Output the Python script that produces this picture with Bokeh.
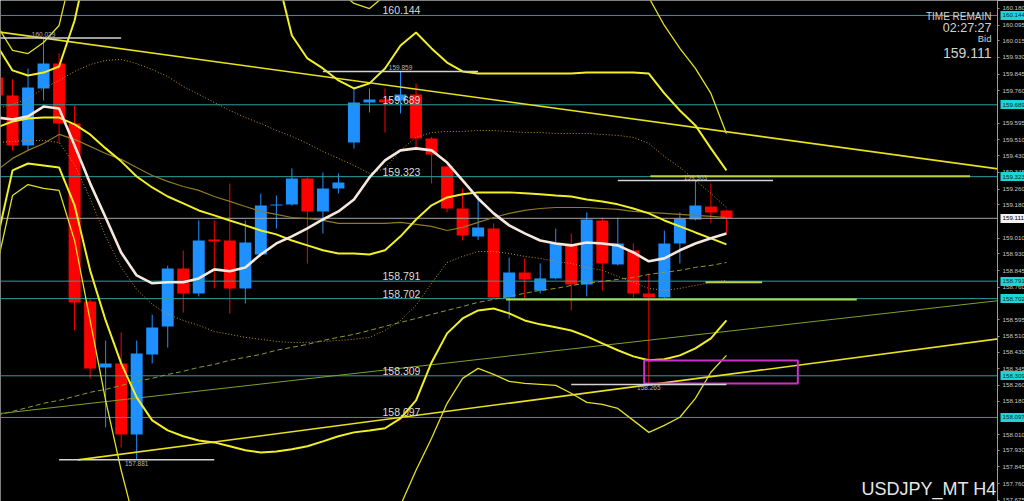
from bokeh.plotting import figure
from bokeh.models import Range1d, FixedTicker, NumeralTickFormatter, Label, LinearAxis
from bokeh.embed import file_html
from bokeh.resources import INLINE
from bokeh.core.properties import value

# ---- USDJPY H4 candles (oldest -> newest) ----
opens = [159.828, 159.736, 159.482, 159.772, 159.899, 159.594, 158.687, 158.351, 158.372, 158.010,
         158.418, 158.560, 158.855, 158.728, 159.003, 158.998, 158.754, 158.927, 159.176, 159.181,
         159.314, 159.146, 159.263, 159.497, 159.701, 159.716, 159.711, 159.741, 159.517, 159.375,
         159.161, 159.018, 159.059, 158.708, 158.835, 158.743, 158.805, 158.978, 158.774, 159.100,
         158.876, 158.947, 158.728, 158.708, 158.983, 159.105, 159.171, 159.151]
highs = [159.850, 159.818, 159.874, 160.029, 159.950, 159.685, 158.700, 158.489, 158.530, 158.489,
         158.620, 158.870, 158.947, 159.100, 159.100, 159.288, 159.100, 159.237, 159.227, 159.365,
         159.320, 159.344, 159.339, 159.772, 159.772, 159.772, 159.859, 159.797, 159.525, 159.380,
         159.263, 159.227, 159.085, 158.911, 158.906, 158.881, 159.059, 159.034, 159.141, 159.115,
         159.115, 158.983, 158.830, 159.049, 159.141, 159.303, 159.288, 159.155]
lows = [159.700, 159.456, 159.456, 159.711, 159.492, 158.540, 158.295, 158.046, 157.944, 157.881,
        158.372, 158.453, 158.631, 158.713, 158.754, 158.626, 158.677, 158.920, 159.059, 159.175,
        158.881, 159.034, 159.237, 159.466, 159.650, 159.548, 159.645, 159.472, 159.288, 159.141,
        158.998, 159.000, 158.700, 158.601, 158.703, 158.728, 158.800, 158.642, 158.713, 158.743,
        158.870, 158.708, 158.265, 158.700, 158.881, 159.100, 159.085, 159.034]
closes = [159.736, 159.482, 159.777, 159.899, 159.594, 158.682, 158.346, 158.372, 158.010, 158.423,
          158.555, 158.855, 158.728, 158.998, 158.993, 158.754, 158.988, 159.176, 159.181, 159.314,
          159.146, 159.263, 159.293, 159.701, 159.716, 159.701, 159.741, 159.517, 159.436, 159.161,
          159.023, 159.064, 158.708, 158.835, 158.799, 158.805, 158.983, 158.774, 159.105, 158.881,
          158.983, 158.728, 158.708, 158.983, 159.110, 159.176, 159.141, 159.111]
bars = list(range(len(opens)))

# ---- indicator lines, one value per bar ----
ma_fast = [159.624, 159.614, 159.630, 159.680, 159.670, 159.482, 159.289, 159.115, 158.937, 158.820,
           158.780, 158.785, 158.785, 158.805, 158.851, 158.841, 158.861, 158.927, 158.983, 159.019,
           159.060, 159.105, 159.146, 159.207, 159.319, 159.406, 159.457, 159.467, 159.457, 159.395,
           159.304, 159.212, 159.136, 159.075, 159.034, 158.998, 158.983, 158.973, 158.988, 158.983,
           158.973, 158.937, 158.892, 158.907, 158.948, 158.983, 159.009, 159.034]
ma_mid = [159.574, 159.604, 159.619, 159.624, 159.624, 159.589, 159.538, 159.467, 159.401, 159.324,
          159.268, 159.222, 159.187, 159.151, 159.126, 159.100, 159.075, 159.049, 159.029, 158.998,
          158.973, 158.948, 158.932, 158.932, 158.927, 158.948, 159.019, 159.105, 159.177, 159.217,
          159.233, 159.243, 159.243, 159.243, 159.238, 159.233, 159.227, 159.222, 159.207, 159.197,
          159.182, 159.161, 159.136, 159.100, 159.070, 159.039, 159.009, 158.978]
ma_slow = [159.355, 159.416, 159.457, 159.492, 159.538, 159.513, 159.477, 159.441, 159.411, 159.370,
           159.329, 159.299, 159.273, 159.253, 159.222, 159.197, 159.171, 159.146, 159.131, 159.115,
           159.110, 159.100, 159.085, 159.085, 159.085, 159.085, 159.090, 159.080, 159.070, 159.049,
           159.065, 159.090, 159.115, 159.136, 159.151, 159.161, 159.166, 159.166, 159.166, 159.161,
           159.156, 159.146, 159.141, 159.136, 159.131, 159.126, 159.121, 159.115]
env_up = [159.670, 159.691, 159.721, 159.772, 159.813, 159.859, 159.894, 159.915, 159.920, 159.899,
          159.869, 159.833, 159.782, 159.742, 159.701, 159.660, 159.624, 159.594, 159.558, 159.528,
          159.492, 159.451, 159.416, 159.380, 159.339, 159.365, 159.457, 159.523, 159.548, 159.553,
          159.553, 159.558, 159.558, 159.553, 159.548, 159.548, 159.543, 159.543, 159.543, 159.538,
          159.533, 159.523, 159.492, 159.426, 159.370, 159.304, 159.238, 159.166]
env_dn = [159.497, 159.502, 159.507, 159.507, 159.497, 159.385, 159.212, 159.019, 158.861, 158.749,
          158.673, 158.622, 158.591, 158.566, 158.535, 158.520, 158.505, 158.495, 158.484, 158.479,
          158.479, 158.484, 158.489, 158.495, 158.505, 158.540, 158.591, 158.668, 158.780, 158.886,
          158.917, 158.942, 158.942, 158.932, 158.917, 158.907, 158.892, 158.881, 158.861, 158.846,
          158.815, 158.785, 158.754, 158.744, 158.754, 158.769, 158.785, 158.795]
bb2_up = [159.991, 159.864, 159.838, 159.853, 159.884, 160.118, 160.475, 160.831, 161.136, 161.340,
          161.493, 161.543, 161.543, 161.493, 161.391, 161.187, 160.933, 160.653, 160.363, 160.042,
          159.925, 159.874, 159.813, 159.772, 159.798, 159.874, 159.991, 160.057, 159.976, 159.904,
          159.859, 159.848, 159.848, 159.848, 159.848, 159.848, 159.848, 159.848, 159.853, 159.853,
          159.853, 159.853, 159.848, 159.747, 159.660, 159.584, 159.467, 159.355]
bb2_dn = [158.998, 159.355, 159.390, 159.380, 159.370, 159.177, 158.846, 158.591, 158.372, 158.199,
          158.082, 158.031, 158.001, 157.980, 157.970, 157.950, 157.930, 157.919, 157.924, 157.935,
          157.950, 157.975, 158.001, 158.021, 158.031, 158.042, 158.092, 158.184, 158.377, 158.525,
          158.601, 158.642, 158.652, 158.627, 158.591, 158.571, 158.556, 158.540, 158.510, 158.474,
          158.439, 158.408, 158.388, 158.393, 158.413, 158.449, 158.500, 158.591]
bb3_up = [160.093, 159.966, 159.950, 160.006, 160.093, 160.424, 160.984, 161.493, 161.900, 162.154,
          162.358, 162.460, 162.460, 162.358, 162.205, 162.002, 161.747, 161.442, 161.136, 160.831,
          160.627, 160.424, 160.271, 160.205, 160.179, 160.245, 160.424, 160.525, 160.576, 160.627,
          160.653, 160.653, 160.653, 160.653, 160.653, 160.653, 160.627, 160.602, 160.576, 160.525,
          160.449, 160.347, 160.235, 160.093, 159.976, 159.874, 159.747, 159.543]
bb3_dn = [158.871, 159.227, 159.283, 159.263, 159.253, 158.998, 158.591, 158.184, 157.828, 157.522,
          157.319, 157.166, 157.064, 156.988, 156.937, 156.912, 156.886, 156.886, 156.912, 156.962,
          157.039, 157.115, 157.217, 157.319, 157.420, 157.573, 157.650, 157.828, 157.991, 158.169,
          158.296, 158.347, 158.316, 158.281, 158.270, 158.265, 158.260, 158.220, 158.174, 158.164,
          158.143, 158.082, 158.021, 158.057, 158.098, 158.194, 158.327, 158.413]
ma_long = [158.108, 158.128, 158.148, 158.169, 158.184, 158.204, 158.225, 158.240, 158.260, 158.281,
           158.296, 158.316, 158.332, 158.352, 158.367, 158.388, 158.403, 158.418, 158.439, 158.454,
           158.469, 158.489, 158.505, 158.520, 158.540, 158.561, 158.581, 158.601, 158.622, 158.642,
           158.662, 158.683, 158.698, 158.713, 158.729, 158.744, 158.754, 158.769, 158.780, 158.790,
           158.800, 158.810, 158.825, 158.836, 158.846, 158.861, 158.871, 158.886]

# ---- drawn objects ----
levels = [160.144, 159.689, 159.323, 158.791, 158.702, 158.309, 158.097]
bid = 159.111
swing_bar = [3, 26, 45, 42, 9]
swing_price = [160.029, 159.859, 159.303, 158.265, 157.881]
swing_is_high = [True, True, True, False, False]
trend_desc_x, trend_desc_y = [0, 65], [160.061, 159.357]
trend_asc_x, trend_asc_y = [5.2, 65], [157.881, 158.502]
trend_grn_x, trend_grn_y = [0, 65], [158.115, 158.696]
zone_price = [159.325, 158.785, 158.698]
zone_start = [42.1, 45.65, 32.8]
zone_end = [62.7, 49.3, 55.4]
box_left, box_right, box_bottom, box_top = 41.7, 51.6, 158.270, 158.387
axis_ticks = [160.180, 160.095, 160.015, 159.930, 159.845, 159.760, 159.595, 159.510,
              159.430, 159.345, 159.260, 159.180, 159.010, 158.930, 158.845, 158.760,
              158.595, 158.510, 158.430, 158.345, 158.260, 158.180, 158.010,
              157.930, 157.845, 157.760, 157.675]
symbol = "USDJPY_MT H4"
time_remain = "02:27:27"

FONT = "Liberation Sans"
SCALE_SIZE = "6.2px"
FRAME_W, FRAME_H = 997, 501
BAR_PX = 15.52
x0 = 3.5 / BAR_PX
Y_MIN, Y_MAX = 157.669, 160.220

p = figure(frame_width=FRAME_W, frame_height=FRAME_H,
           x_range=Range1d(x0, x0 + FRAME_W / BAR_PX),
           y_range=Range1d(Y_MIN, Y_MAX),
           output_backend="svg", toolbar_location=None,
           x_axis_location=None, y_axis_location="right",
           background_fill_color="black", border_fill_color="black",
           outline_line_color=None, min_border=0)
p.grid.visible = False

ax = p.yaxis[0]
ax.ticker = FixedTicker(ticks=axis_ticks)
ax.formatter = NumeralTickFormatter(format="0.000")
ax.axis_line_color = "#9a9a9a"
ax.major_tick_line_color = "#9a9a9a"
ax.major_tick_out = 2
ax.major_tick_in = 0
ax.minor_tick_line_color = None
ax.major_label_standoff = 3
ax.major_label_text_font = FONT
ax.major_label_text_font_size = SCALE_SIZE
ax.major_label_text_color = "#c8c8c8"


def tag_axis(values, fill, text_color):
    # price tags on the scale: a wide tick acts as the tag box, the label sits on top of it
    t = LinearAxis(ticker=FixedTicker(ticks=values), formatter=NumeralTickFormatter(format="0.000"))
    t.axis_line_color = None
    t.minor_tick_line_color = None
    t.major_tick_out = 0
    t.major_tick_in = 27
    t.major_tick_line_width = 9
    t.major_tick_line_color = fill
    t.major_tick_line_cap = "butt"
    t.major_label_standoff = -25
    t.major_label_text_font = FONT
    t.major_label_text_font_size = SCALE_SIZE
    t.major_label_text_color = text_color
    p.add_layout(t, "right")


tag_axis(levels, "#1cd6d6", "#0a2a2a")
tag_axis([bid], "#f2f2f2", "black")

# candles
colors = ["#1e90ff" if c >= o else "#ff0000" for o, c in zip(opens, closes)]
tops = [max(o, c) for o, c in zip(opens, closes)]
bots = [min(o, c) for o, c in zip(opens, closes)]
p.segment(x0=bars, y0=lows, x1=bars, y1=highs, color=colors, line_width=1)
p.vbar(x=bars, width=0.77, top=tops, bottom=bots, fill_color=colors, line_color=None)

# horizontal price levels and bid line
for lv in levels:
    p.segment(x0=[x0 - 1], y0=[lv], x1=[70], y1=[lv], color="#2c9f9f", line_width=1)
p.segment(x0=[x0 - 1], y0=[bid], x1=[70], y1=[bid], color="#a4a4a4", line_width=1)

# trend lines
p.line(trend_grn_x, trend_grn_y, color="#7f9f2f", line_width=1)
p.line(trend_desc_x, trend_desc_y, color="#e8e020", line_width=1.6)
p.line(trend_asc_x, trend_asc_y, color="#e8e020", line_width=1.6)

# indicators
p.line(bars, ma_long, color="#8a9a30", line_width=1, line_dash="5 3")
p.line(bars, env_up, color="#c0902a", line_width=1, line_dash="1 2")
p.line(bars, env_dn, color="#c0902a", line_width=1, line_dash="1 2")
p.line(bars, ma_slow, color="#8f7a22", line_width=1.2)
p.line(bars, bb3_up, color="#e0e024", line_width=1.3)
p.line(bars, bb3_dn, color="#e0e024", line_width=1.3)
p.line(bars, bb2_up, color="#f0ef28", line_width=2)
p.line(bars, bb2_dn, color="#f0ef28", line_width=2)
p.line(bars, ma_mid, color="#f0ef28", line_width=2)
p.line(bars, ma_fast, color="#f6e8dc", line_width=2.6)

# zones and box
p.segment(x0=zone_start, y0=zone_price, x1=zone_end, y1=zone_price, color="#c4d03a", line_width=2)
p.quad(left=[box_left], right=[box_right], bottom=[box_bottom], top=[box_top],
       fill_color=None, line_color="#c832c8", line_width=2)

# swing high / low markers
p.segment(x0=[b - 5 for b in swing_bar], y0=swing_price, x1=[b + 5 for b in swing_bar], y1=swing_price,
          color="#d4d4d4", line_width=1.5)
for b, v, hi in zip(swing_bar, swing_price, swing_is_high):
    p.text(x=[b], y=[v], text=[f"{v:.3f}"], text_font=value(FONT), text_font_size="6.5px",
           text_color="#b4b4b4", text_align="center",
           text_baseline="bottom" if hi else "top", y_offset=-1 if hi else 1)

# level captions on the chart
cap_x = (382 + 3.5) / BAR_PX
p.text(x=[cap_x] * len(levels), y=levels, text=[f"{v:.3f}" for v in levels],
       text_font=value(FONT), text_font_size="10.5px", text_color="#dcdcdc",
       text_baseline="bottom", y_offset=-1)

# info block, top right
info = [("TIME REMAIN", "10px", 485), (time_remain, "12.5px", 474),
        ("Bid", "9.5px", 463), (f"{bid:.3f}", "14px", 449)]
for txt, size, sy in info:
    p.add_layout(Label(x=991, y=sy, x_units="screen", y_units="screen", text=txt,
                       text_font=FONT, text_font_size=size, text_color="#d2d2d2",
                       text_align="right", text_baseline="alphabetic"))

p.add_layout(Label(x=996, y=13, x_units="screen", y_units="screen", text=symbol,
                   text_font=FONT, text_font_size="18px", text_color="#e6e6e6",
                   text_align="right", text_baseline="alphabetic"))

open("out.html", "w").write(file_html(p, INLINE))
